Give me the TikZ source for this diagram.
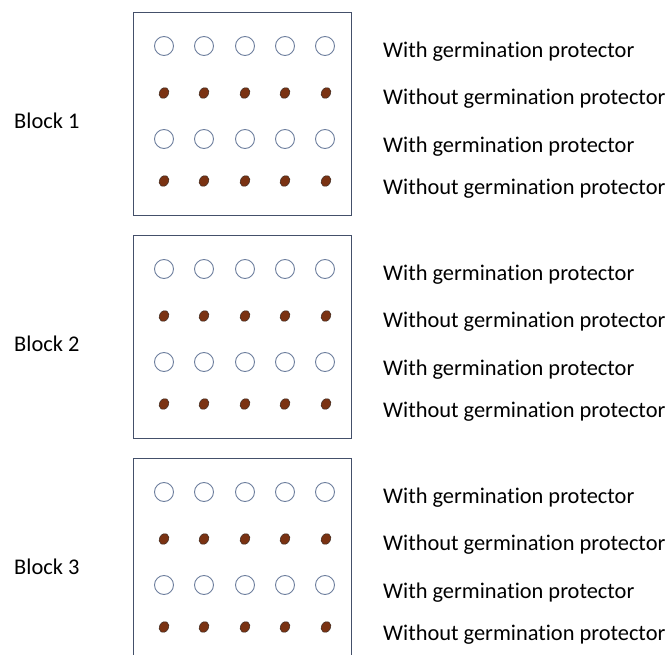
\documentclass[tikz,border=0pt]{standalone}
\usepackage{fontspec}
\setmainfont{Carlito}[Ligatures=NoCommon]
\usetikzlibrary{positioning,shapes.geometric}
\definecolor{frameline}{HTML}{44506A}
\definecolor{holeline}{HTML}{6E7F9E}
\definecolor{seedfill}{HTML}{7A3212}
\definecolor{seededge}{HTML}{3B2A22}
\begin{document}
\begin{tikzpicture}[x=1pt, y=-1pt,
     node distance = 3mm and 3mm,
       plot/.style = {rectangle, draw=frameline, line width=0.9pt, minimum width=218pt, minimum height=203pt, inner sep=0pt, anchor=north west},
       hole/.style = {circle, draw=holeline, line width=0.9pt, minimum size=19pt, inner sep=0pt},
       seed/.style = {ellipse, fill=seedfill, draw=seededge, line width=0.5pt, minimum width=11.5pt, minimum height=9pt, inner sep=0pt, rotate=60},
      treat/.style = {anchor=west, inner sep=0pt, font=\fontsize{22.4}{26}\selectfont},
      blabel/.style = {anchor=west, inner sep=0pt, font=\fontsize{22.4}{26}\selectfont}
                        ]
\useasboundingbox (0,0) rectangle (670,655);
\clip (0,0) rectangle (670,655);
\foreach \b/\top in {1/12, 2/235, 3/458} {
  \node (block\b) [plot] at (133,\top) {};
  \node (name\b) [blabel] at (14,\top+108.5) {Block \b};
  \foreach \r/\dy/\ty in {1/34/40, 3/127/135} {
    \foreach \c/\x in {1/164, 2/204, 3/245, 4/285, 5/325}
      \node (h\b\r\c) [hole] at (\x,\top+\dy) {};
    \node (t\b\r) [treat] at (383,\top+\ty) {With germination protector};
  }
  \foreach \r/\dy/\ty in {2/81/87, 4/169/177} {
    \foreach \c/\x in {1/164, 2/204, 3/245, 4/285, 5/326}
      \node (s\b\r\c) [seed] at (\x,\top+\dy) {};
    \node (t\b\r) [treat] at (383,\top+\ty) {Without germination protector};
  }
}
\end{tikzpicture}
\end{document}
